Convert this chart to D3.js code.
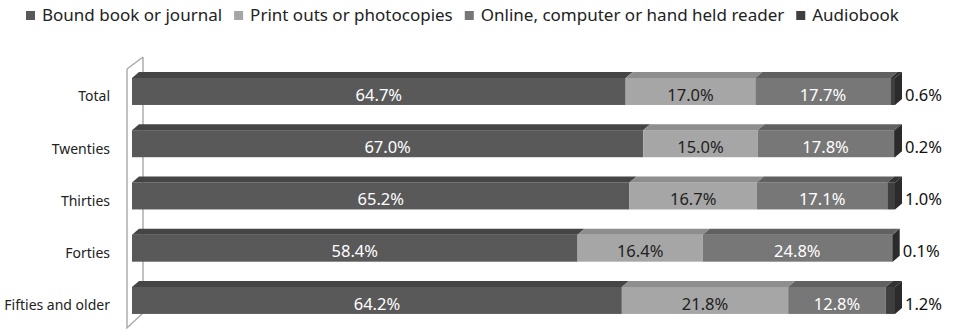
<!DOCTYPE html>
<html>
<head>
<meta charset="utf-8">
<script src="https://cdn.jsdelivr.net/npm/d3@7/dist/d3.min.js"></script>
<style>
  html, body { margin: 0; padding: 0; background: #fff; }
  svg { display: block; font-family: "Noto Sans", "Open Sans", sans-serif; }
</style>
</head>
<body>
<svg id="chart" width="955" height="331"></svg>
<script>
// Share of reading format by age group (percent)
const categories = ["Total", "Twenties", "Thirties", "Forties", "Fifties and older"];
const seriesNames = ["Bound book or journal", "Print outs or photocopies", "Online, computer or hand held reader", "Audiobook"];
const boundBook = [64.7, 67.0, 65.2, 58.4, 64.2];
const printOuts = [17.0, 15.0, 16.7, 16.4, 21.8];
const online    = [17.7, 17.8, 17.1, 24.8, 12.8];
const audiobook = [0.6, 0.2, 1.0, 0.1, 1.2];

const seriesValues = [boundBook, printOuts, online, audiobook];

// face shades for each series: front, top
const frontColors = ["#595959", "#a6a6a6", "#777777", "#3f3f3f"];
const topColors   = ["#454545", "#8e8e8e", "#616161", "#333333"];
const sideColor   = "#2b2b2b";
const labelColors = ["#ffffff", "#222222", "#ffffff", "#111111"];

const svg = d3.select("#chart");

// table for stacking
const rows = categories.map((c, i) => {
  const r = { category: c };
  seriesNames.forEach((s, k) => { r[s] = seriesValues[k][i]; });
  return r;
});
const stacked = d3.stack().keys(seriesNames)(rows);

// scales
const x = d3.scaleLinear().domain([0, 100]).range([132, 895]);
const y = d3.scaleBand().domain(categories)
  .range([64.9, 327]).paddingInner(0.483).paddingOuter(0.25);
const h = y.bandwidth();
const dx = 7, dy = 6;

// side wall of the 3D plot
const wallFront = 127, wallBack = 143;
const wall = svg.append("g").attr("fill", "none").attr("stroke", "#a8a8a8").attr("stroke-width", 1.4);
wall.append("path").attr("d", `M${wallFront},69 L${wallFront},328 L${wallBack},313 L${wallBack},57 M${wallFront},69 L${wallBack},57`);

// bars
const barsG = svg.append("g");
categories.forEach((cat, i) => {
  const yt = y(cat);
  const g = barsG.append("g");
  stacked.forEach((layer, k) => {
    const d = layer[i];
    const x0 = x(d[0]), x1 = x(d[1]);
    // front face
    g.append("rect").attr("x", x0).attr("y", yt).attr("width", Math.max(0, x1 - x0)).attr("height", h)
      .attr("fill", frontColors[k]);
    // top face
    g.append("path")
      .attr("d", `M${x0},${yt} L${x0 + dx},${yt - dy} L${x1 + dx},${yt - dy} L${x1},${yt} Z`)
      .attr("fill", topColors[k]);
    if (k === stacked.length - 1) {
      // right end face
      g.append("path")
        .attr("d", `M${x1},${yt} L${x1 + dx},${yt - dy} L${x1 + dx},${yt + h - dy} L${x1},${yt + h} Z`)
        .attr("fill", sideColor);
    }
  });
});

// value labels
const fmt = v => v.toFixed(1) + "%";
const labelsG = svg.append("g").attr("font-size", 16.5);
categories.forEach((cat, i) => {
  const yc = y(cat) + h / 2 + 3.5;
  stacked.forEach((layer, k) => {
    const d = layer[i];
    const v = seriesValues[k][i];
    const last = k === stacked.length - 1;
    labelsG.append("text")
      .attr("x", last ? x(d[1]) + dx + 3 : (x(d[0]) + x(d[1])) / 2)
      .attr("y", yc)
      .attr("dy", "0.35em")
      .attr("text-anchor", last ? "start" : "middle")
      .attr("fill", labelColors[k])
      .text(fmt(v));
  });
});

// category axis
const axisG = svg.append("g").attr("font-size", 14).attr("fill", "#222");
categories.forEach(cat => {
  axisG.append("text")
    .attr("x", 110)
    .attr("y", y(cat) + h / 2 + 5)
    .attr("dy", "0.35em")
    .attr("text-anchor", "end")
    .text(cat);
});

// legend
const legend = svg.append("g").attr("font-size", 17).attr("fill", "#222");
let lx = 26;
seriesNames.forEach((name, k) => {
  legend.append("rect").attr("x", lx).attr("y", 11).attr("width", 9).attr("height", 9).attr("fill", frontColors[k]);
  const t = legend.append("text").attr("x", lx + 16).attr("y", 15.5).attr("dy", "0.35em").text(name);
  lx += 16 + t.node().getComputedTextLength() + 12;
});
</script>
</body>
</html>
